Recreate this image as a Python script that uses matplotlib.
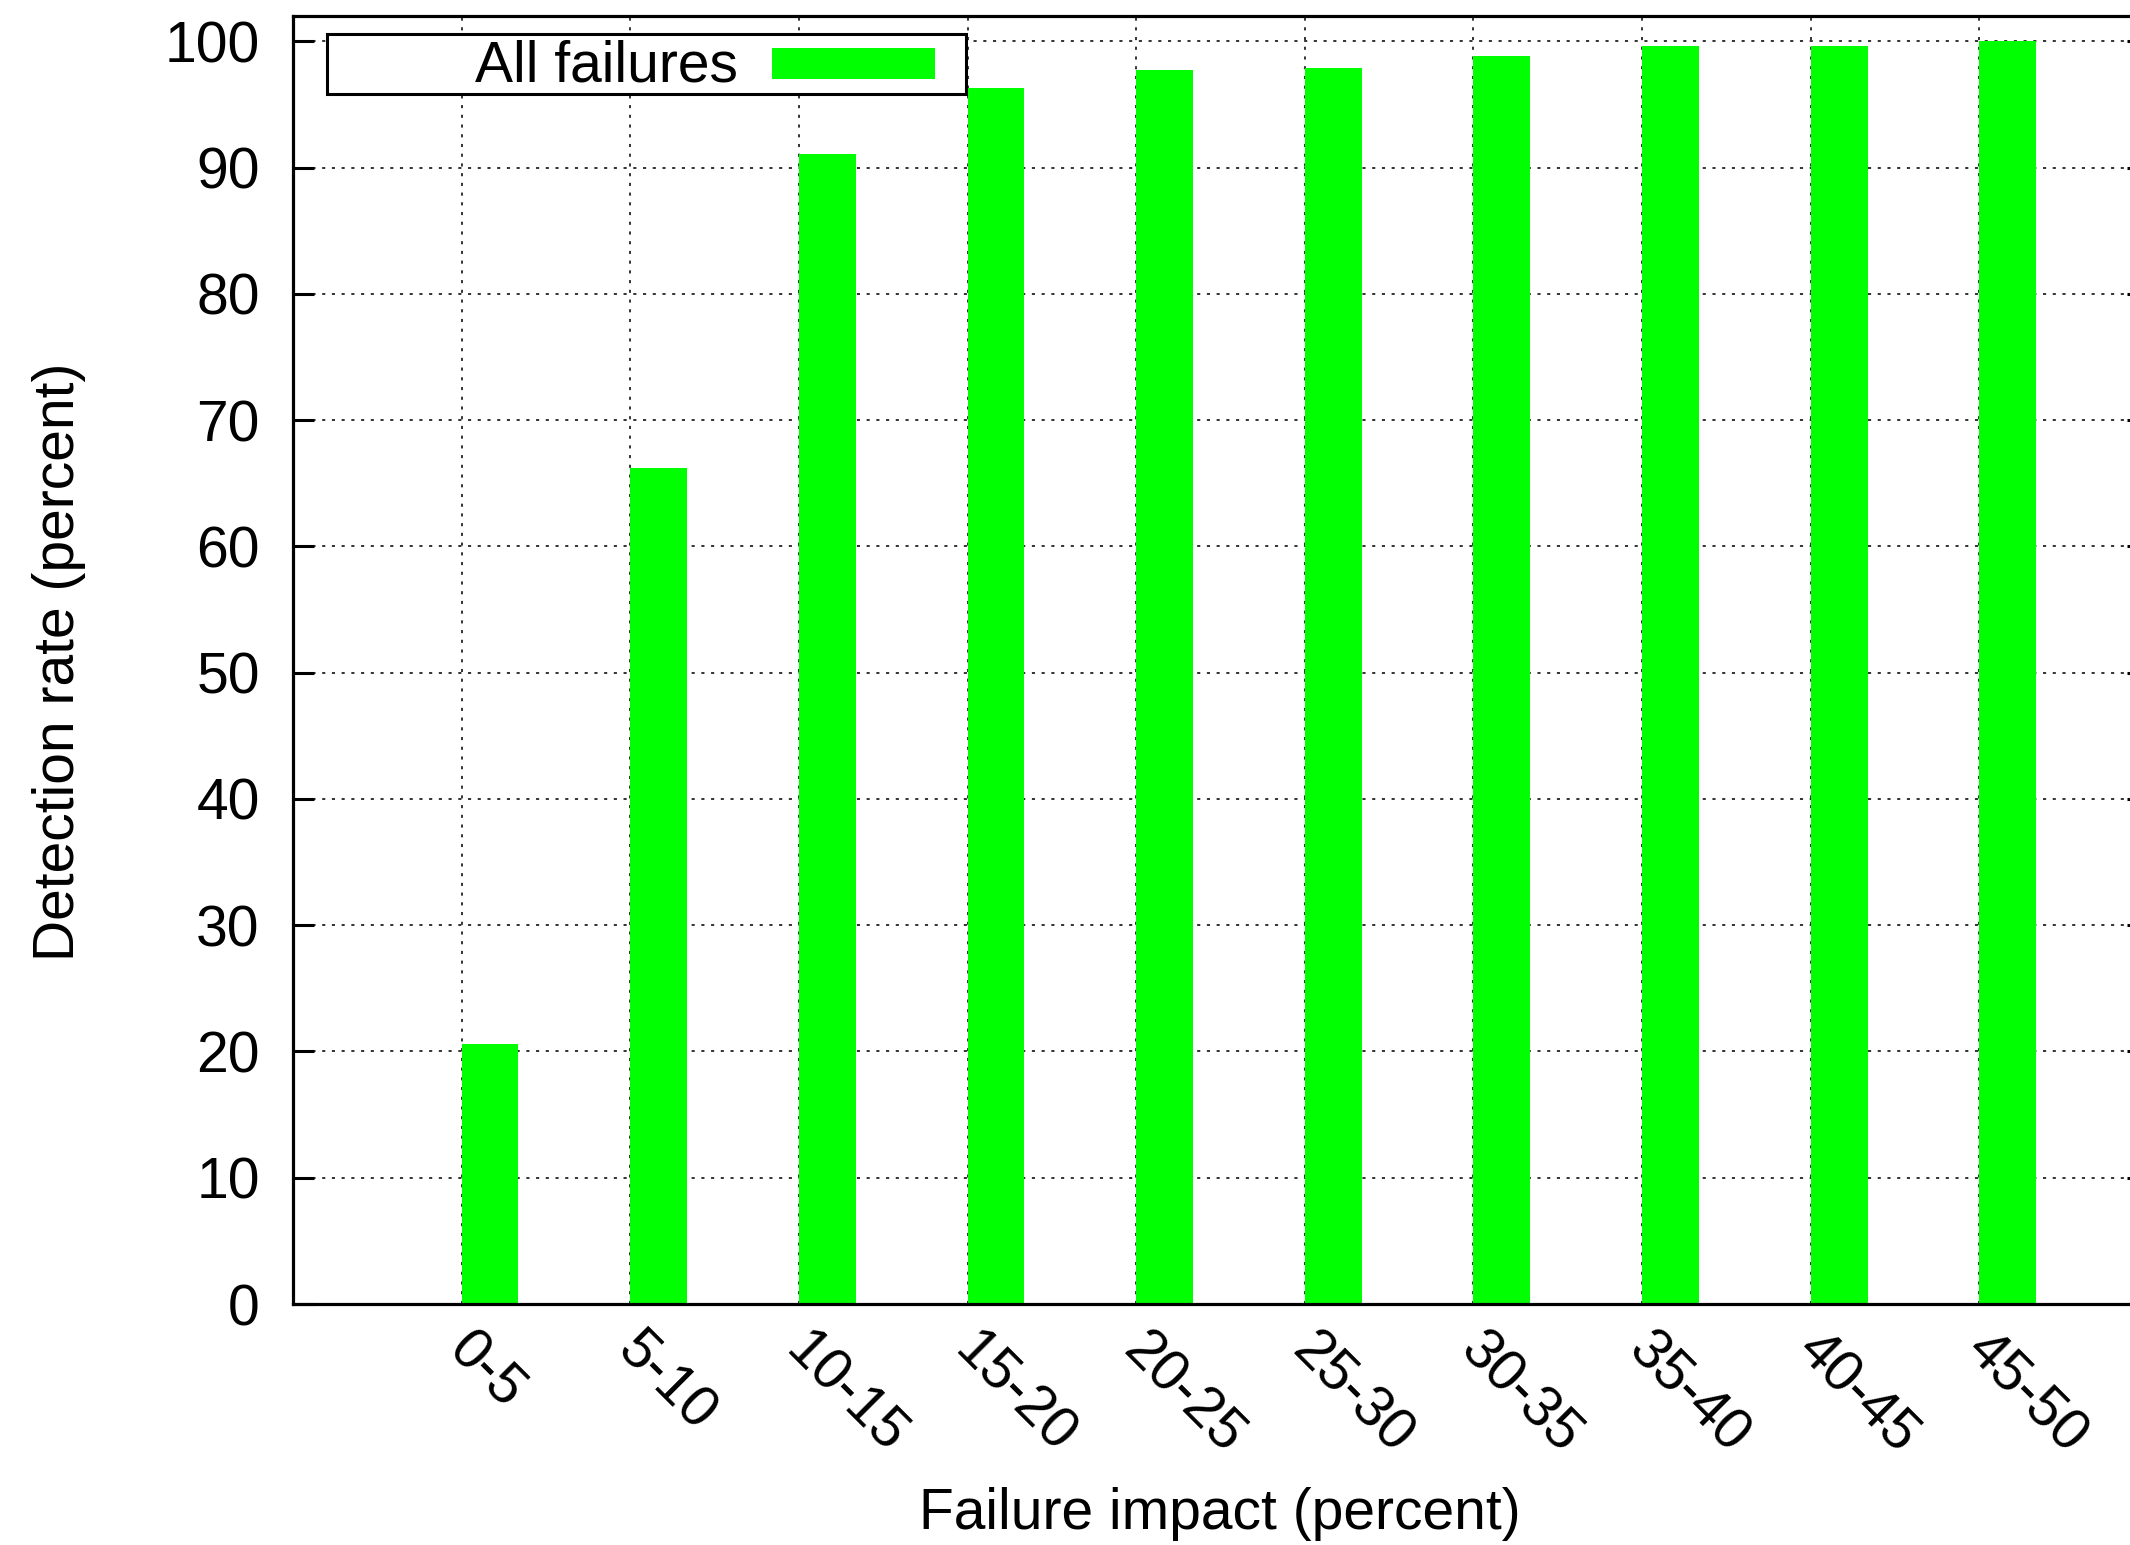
import matplotlib
matplotlib.use("Agg")
import matplotlib.pyplot as plt
import matplotlib.transforms as mtransforms
from matplotlib.patches import Rectangle
import numpy as np

# Impact buckets and the share of failures detected in each
categories = ["0-5", "5-10", "10-15", "15-20", "20-25",
              "25-30", "30-35", "35-40", "40-45", "45-50"]
detection_rate = [20.6, 66.2, 91.1, 96.3, 97.7, 97.9, 98.8, 99.6, 99.6, 100.0]
y_ticks = [0, 10, 20, 30, 40, 50, 60, 70, 80, 90, 100]
series_label = "All failures"

plt.rcParams["font.family"] = ["Liberation Sans", "DejaVu Sans"]
FS = 41
GREEN = "#00ff00"

W, H = 2130, 1545
fig = plt.figure(figsize=(W / 100, H / 100), dpi=100)
ax_l, ax_r, ax_t, ax_b = 293, 2148, 16, 1304
ax = fig.add_axes([ax_l / W, 1 - ax_b / H, (ax_r - ax_l) / W, (ax_b - ax_t) / H])

x = np.arange(len(categories))
bar_w = 0.337
ax.bar(x, detection_rate, width=bar_w, align="edge", color=GREEN,
       edgecolor="none", zorder=2)

ax.set_xlim(-1, len(categories))
ax.set_ylim(0, 102)

# dotted grid behind the bars
grid_kw = dict(color="#333333", linewidth=1.4, linestyle=(0, (1.6, 3.4)), zorder=1)
for xv in x:
    ax.axvline(xv, **grid_kw)
for yv in y_ticks:
    ax.axhline(yv, **grid_kw)

ax.set_yticks(y_ticks)
ax.set_yticklabels([str(v) for v in y_ticks], fontsize=FS)
ax.tick_params(axis="y", direction="in", length=15, width=2.2, pad=24,
               right=True, left=True)
ax.set_xticks(x)
ax.set_xticklabels(categories, fontsize=FS, rotation=-45, ha="left", va="top",
                   rotation_mode="anchor")
ax.tick_params(axis="x", length=0, pad=14)
offset = mtransforms.ScaledTranslation(14 / 100, 0, fig.dpi_scale_trans)
for lab in ax.get_xticklabels():
    lab.set_transform(lab.get_transform() + offset)

for sp in ax.spines.values():
    sp.set_linewidth(2.3)
    sp.set_zorder(3)

fig.text(1220 / W, 1 - 1514 / H, "Failure impact (percent)", fontsize=FS,
         ha="center", va="center")
fig.text(59 / W, 1 - 662 / H, "Detection rate (percent)", fontsize=FS,
         ha="center", va="center", rotation=90)

# key box in the upper left corner
def ax_frac(px, py):
    return (px - ax_l) / (ax_r - ax_l), (ax_b - py) / (ax_b - ax_t)

bx0, by0 = ax_frac(327, 94)
bx1, by1 = ax_frac(966, 34)
ax.add_patch(Rectangle((bx0, by0), bx1 - bx0, by1 - by0, transform=ax.transAxes,
                       facecolor="white", edgecolor="black", linewidth=2.2,
                       zorder=4))
sx0, sy0 = ax_frac(772, 79)
sx1, sy1 = ax_frac(935, 48)
ax.add_patch(Rectangle((sx0, sy0), sx1 - sx0, sy1 - sy0, transform=ax.transAxes,
                       facecolor=GREEN, edgecolor="none", zorder=5))
tx, ty = ax_frac(738, 67)
ax.text(tx, ty, series_label, transform=ax.transAxes, fontsize=FS,
        ha="right", va="center", zorder=5)

fig.savefig("out.png", dpi=100, facecolor="white")
